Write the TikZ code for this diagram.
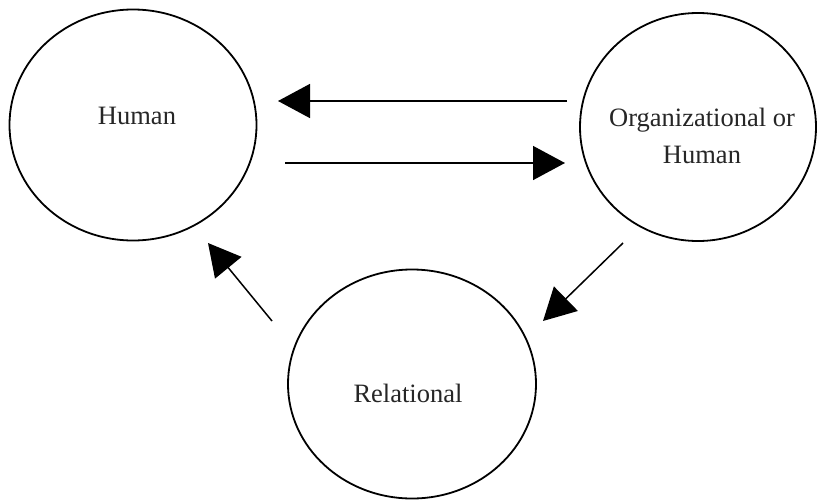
\documentclass[tikz,border=0pt]{standalone}
\usepackage{fontspec}
\setmainfont{Liberation Serif}
\usetikzlibrary{shapes.geometric,arrows.meta}
\begin{document}
\begin{tikzpicture}[x=1pt,y=-1pt,
  party/.style={draw=black,line width=1.8pt,ellipse,inner sep=0pt},
  caption/.style={font=\fontsize{26.5}{37}\selectfont,text=black!85,align=center},
  flow/.style={draw=black,line width=1.5pt,-{Triangle[length=32pt,width=34pt]}}]
\useasboundingbox[fill=white] (0,0) rectangle (817,501);
% the three parties
\node[party,minimum width=247pt,minimum height=231pt] (human) at (133,125) {};
\node[party,minimum width=236pt,minimum height=228pt] (org) at (698,127) {};
\node[party,minimum width=248pt,minimum height=229pt] (rel) at (412,384) {};
\node[caption] (humantxt) at (137,116) {Human};
\node[caption] (orgtxt) at (702,136) {Organizational or\\Human};
\node[caption] (reltxt) at (408,393) {Relational};
% arrow end points
\coordinate (a1s) at (567,101); \coordinate (a1e) at (278,101);
\coordinate (a2s) at (285,163); \coordinate (a2e) at (565,163);
\coordinate (a3s) at (623,243); \coordinate (a3e) at (543,321);
\coordinate (a4s) at (272,321); \coordinate (a4e) at (208,243);
\draw[flow] (a1s) -- (a1e);
\draw[flow] (a2s) -- (a2e);
\draw[flow] (a3s) -- (a3e);
\draw[flow] (a4s) -- (a4e);
\end{tikzpicture}
\end{document}
